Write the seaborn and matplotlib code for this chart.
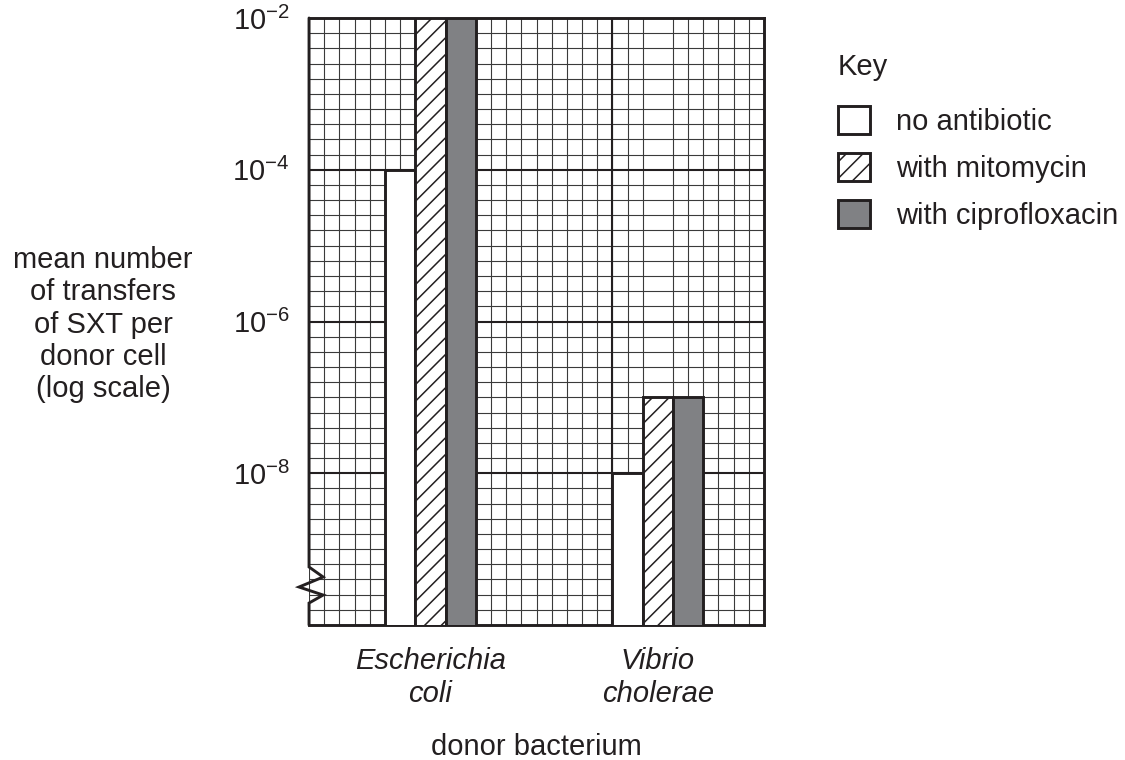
import numpy as np
import pandas as pd
import matplotlib
matplotlib.use('Agg')
import matplotlib.pyplot as plt
from matplotlib.patches import Patch
from matplotlib.lines import Line2D
from matplotlib.ticker import FixedLocator, LogFormatterSciNotation, NullFormatter
import seaborn as sns

# data
donors = ['Escherichia\ncoli', 'Vibrio\ncholerae']
treatments = ['no antibiotic', 'with mitomycin', 'with ciprofloxacin']
no_antibiotic = [1e-4, 1e-8]
with_mitomycin = [1e-2, 1e-7]
with_ciprofloxacin = [1e-2, 1e-7]
y_ticks = [1e-8, 1e-6, 1e-4, 1e-2]

fills = ['white', 'white', '#808184']
hatches = ['', '//', '']
ink = '#231f20'

df = pd.DataFrame({
    'donor': donors * 3,
    'treatment': np.repeat(treatments, len(donors)),
    'value': no_antibiotic + with_mitomycin + with_ciprofloxacin,
})

sns.set_style('white')
plt.rcParams['font.family'] = ['Liberation Sans', 'DejaVu Sans']
plt.rcParams['mathtext.fontset'] = 'custom'
plt.rcParams['mathtext.rm'] = 'Liberation Sans'
plt.rcParams['mathtext.it'] = 'Liberation Sans:italic'
plt.rcParams['hatch.linewidth'] = 1.1
plt.rcParams['hatch.color'] = ink
plt.rcParams['text.color'] = ink
fs = 21

fig = plt.figure(figsize=(11.25, 7.6), dpi=100)
ax = fig.add_axes([0.2747, 0.1776, 0.4044, 0.7987])

sns.barplot(data=df, x='donor', y='value', hue='treatment', order=donors,
            hue_order=treatments, palette=fills, saturation=1, width=0.4,
            errorbar=None, edgecolor=ink, linewidth=2.1, legend=False, ax=ax)

for cont, h in zip(ax.containers, hatches):
    for bar in cont:
        bar.set_hatch(h)
        bar.set_zorder(3)

ax.set_yscale('log')
ax.set_ylim(1e-10, 1e-2)
ax.set_xlim(-8 / 15, 1 + 7 / 15)

# graph paper
ax.yaxis.set_major_locator(FixedLocator(y_ticks))
ax.yaxis.set_major_formatter(LogFormatterSciNotation())
ax.yaxis.set_minor_locator(FixedLocator(10 ** np.linspace(-10, -2, 41)))
ax.yaxis.set_minor_formatter(NullFormatter())
cols = -8 / 15 + np.arange(31) / 15
ax.xaxis.set_minor_locator(FixedLocator(cols))
ax.grid(which='minor', color='#3a3a3a', linewidth=0.8)
ax.grid(which='major', axis='y', color=ink, linewidth=1.5)
ax.grid(which='major', axis='x', visible=False)
for c in cols[[10, 20]]:
    ax.axvline(c, color=ink, linewidth=1.5, zorder=1)
ax.set_axisbelow(True)

ax.tick_params(axis='y', which='major', length=9, width=2.1, color=ink,
               labelsize=fs, pad=5, labelcolor=ink)
ax.tick_params(axis='both', which='minor', length=0)
ax.tick_params(axis='x', which='major', length=0, labelsize=fs, pad=16,
               labelcolor=ink)
for lab in ax.get_xticklabels():
    lab.set_fontstyle('italic')

for side in ['top', 'right', 'bottom']:
    ax.spines[side].set_linewidth(2.1)
    ax.spines[side].set_color(ink)
ax.spines['left'].set_visible(False)

# left axis with the break mark
zx = [0, 0, 0.031, -0.022, 0.031, 0, 0]
zy = [1, 0.0956, 0.0791, 0.0626, 0.0494, 0.0362, 0]
ax.add_line(Line2D(zx, zy, transform=ax.transAxes, color=ink, lw=2.1,
                   clip_on=False, zorder=5, solid_joinstyle='miter'))

ax.set_xlabel('donor bacterium', fontsize=fs, color=ink, va='center')
ax.xaxis.set_label_coords(0.5, -0.201)
ax.set_ylabel('mean number\nof transfers\nof SXT per\ndonor cell\n(log scale)',
              fontsize=fs, rotation=0, ha='center', va='center',
              multialignment='center', color=ink)
ax.yaxis.set_label_coords(-0.453, 0.495)

handles = [Patch(facecolor=f, edgecolor=ink, hatch=h, linewidth=2.1)
           for f, h in zip(fills, hatches)]
leg = fig.legend(handles, treatments, title='Key', loc='upper left',
                 bbox_to_anchor=(0.745, 0.93), frameon=False, fontsize=fs,
                 title_fontsize=fs, alignment='left', handlelength=1.1,
                 handleheight=1.1, handletextpad=0.9, labelspacing=0.58,
                 borderpad=0, borderaxespad=0)
leg._legend_box.sep = 18

fig.savefig('out.png', dpi=100)
